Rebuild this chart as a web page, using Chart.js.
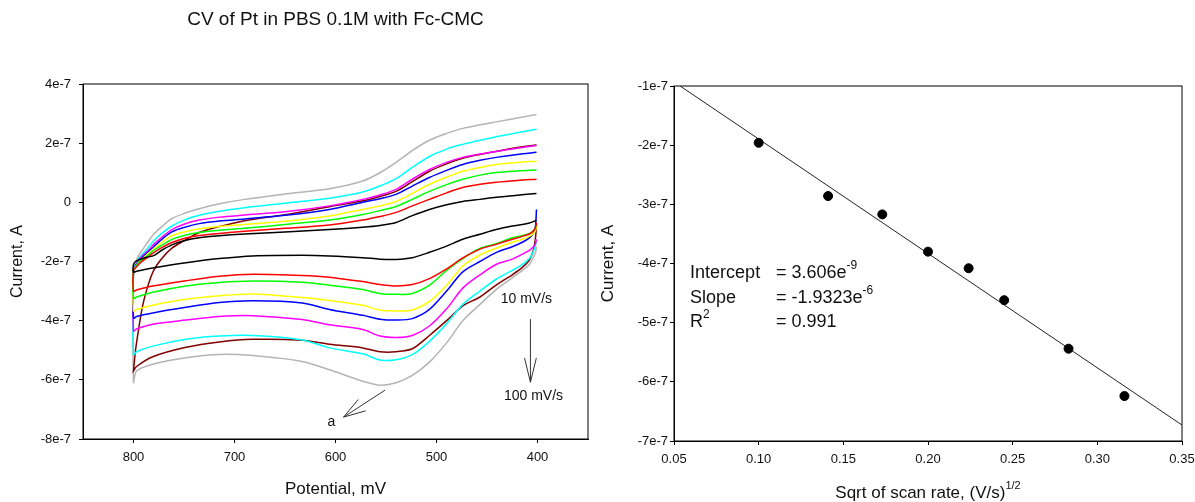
<!DOCTYPE html>
<html>
<head>
<meta charset="utf-8">
<script src="https://cdn.jsdelivr.net/npm/chart.js@4.4.1/dist/chart.umd.min.js"></script>
<style>
  html, body { margin: 0; padding: 0; background: #fff; overflow: hidden; }
  #wrap { position: relative; width: 1195px; height: 502px; }
  canvas { position: absolute; top: 0; }
</style>
</head>
<body>
<div id="wrap">
  <canvas id="cvChart" width="600" height="502" style="left:0"></canvas>
  <canvas id="fitChart" width="605" height="502" style="left:590px"></canvas>
</div>
<script>
// potentials (mV): return scan 400 -> 800, then forward scan 800 -> 400
const lowerPot = [401, 402, 404, 408, 415, 425, 441, 457, 474, 490, 507, 524, 540, 556, 573, 606, 633, 682, 715, 748, 781, 797, 800];
const upperPot = [800, 798, 795, 791, 786, 780, 772, 762, 750, 735, 715, 690, 650, 606, 573, 556, 540, 524, 507, 490, 474, 457, 441, 420, 401];

// currents, in 1e-7 A
const blackLow = [-0.60, -0.62, -0.65, -0.70, -0.75, -0.80, -0.92, -1.08, -1.25, -1.48, -1.69, -1.87, -1.93, -1.92, -1.87, -1.81, -1.79, -1.81, -1.90, -2.04, -2.22, -2.33, -2.36];
const blackUp = [-2.10, -2.00, -1.95, -1.90, -1.85, -1.80, -1.62, -1.44, -1.30, -1.20, -1.13, -1.07, -1.00, -0.92, -0.84, -0.78, -0.68, -0.45, -0.24, -0.08, 0.03, 0.10, 0.17, 0.24, 0.30];
const redLow = [-0.68, -0.85, -0.97, -1.07, -1.15, -1.25, -1.42, -1.58, -1.88, -2.25, -2.58, -2.78, -2.83, -2.78, -2.68, -2.53, -2.47, -2.43, -2.50, -2.65, -2.83, -2.96, -3.00];
const redUp = [-2.30, -2.22, -2.10, -1.98, -1.86, -1.70, -1.53, -1.36, -1.22, -1.12, -1.05, -0.98, -0.88, -0.77, -0.60, -0.48, -0.34, -0.12, 0.10, 0.32, 0.50, 0.61, 0.68, 0.74, 0.78];
const greenLow = [-0.75, -0.85, -0.95, -1.05, -1.12, -1.20, -1.40, -1.56, -1.90, -2.30, -2.80, -3.08, -3.11, -3.08, -2.95, -2.80, -2.70, -2.66, -2.71, -2.83, -3.04, -3.20, -3.25];
const greenUp = [-2.30, -2.20, -2.05, -1.93, -1.80, -1.62, -1.45, -1.25, -1.12, -1.02, -0.94, -0.88, -0.75, -0.60, -0.41, -0.28, -0.14, 0.10, 0.37, 0.60, 0.78, 0.92, 1.01, 1.06, 1.09];
const yellowLow = [-0.80, -0.95, -1.05, -1.15, -1.25, -1.35, -1.55, -1.78, -2.15, -2.80, -3.35, -3.64, -3.67, -3.64, -3.48, -3.32, -3.22, -3.10, -3.16, -3.28, -3.48, -3.62, -3.67];
const yellowUp = [-2.30, -2.18, -2.03, -1.90, -1.75, -1.57, -1.35, -1.13, -1.00, -0.90, -0.82, -0.75, -0.64, -0.46, -0.24, -0.12, 0.03, 0.30, 0.61, 0.85, 1.05, 1.18, 1.28, 1.35, 1.39];
const blueLow = [-0.24, -0.80, -1.05, -1.20, -1.35, -1.50, -1.70, -2.00, -2.35, -3.00, -3.62, -3.93, -3.98, -3.95, -3.82, -3.62, -3.40, -3.33, -3.39, -3.55, -3.74, -3.86, -3.92];
const blueUp = [-2.30, -2.15, -2.00, -1.85, -1.70, -1.50, -1.25, -1.00, -0.85, -0.72, -0.63, -0.56, -0.44, -0.24, 0.00, 0.12, 0.27, 0.55, 0.84, 1.08, 1.28, 1.42, 1.52, 1.62, 1.69];
const magentaLow = [-1.25, -1.40, -1.50, -1.62, -1.75, -1.92, -2.10, -2.45, -2.90, -3.60, -4.18, -4.50, -4.57, -4.52, -4.30, -4.14, -3.96, -3.83, -3.86, -3.98, -4.12, -4.28, -4.35];
const magentaUp = [-2.30, -2.15, -1.95, -1.80, -1.65, -1.42, -1.18, -0.92, -0.74, -0.60, -0.50, -0.43, -0.32, -0.12, 0.10, 0.25, 0.44, 0.78, 1.11, 1.35, 1.52, 1.63, 1.72, 1.83, 1.92];
const cyanLow = [-1.25, -1.45, -1.65, -1.90, -2.10, -2.30, -2.60, -3.00, -3.45, -4.10, -4.70, -5.15, -5.32, -5.33, -5.12, -4.92, -4.65, -4.50, -4.52, -4.63, -4.86, -5.05, -5.15];
const cyanUp = [-2.30, -2.10, -1.90, -1.75, -1.55, -1.30, -1.05, -0.80, -0.60, -0.44, -0.30, -0.18, -0.03, 0.14, 0.35, 0.55, 0.80, 1.18, 1.55, 1.80, 1.96, 2.10, 2.22, 2.35, 2.47];
const brownLow = [-0.74, -1.20, -1.60, -1.95, -2.20, -2.45, -2.80, -3.20, -3.50, -4.00, -4.50, -4.95, -5.05, -5.05, -4.92, -4.80, -4.66, -4.63, -4.72, -4.90, -5.22, -5.55, -5.70];
const brownUp = [-5.70, -5.00, -4.30, -3.50, -2.85, -2.30, -1.90, -1.55, -1.30, -1.02, -0.82, -0.62, -0.42, -0.15, 0.05, 0.20, 0.37, 0.70, 1.05, 1.30, 1.49, 1.62, 1.72, 1.85, 1.94];
const grayLow = [-1.50, -1.70, -1.85, -2.10, -2.30, -2.55, -2.95, -3.45, -4.00, -4.75, -5.40, -5.85, -6.10, -6.18, -6.05, -5.66, -5.38, -5.18, -5.14, -5.25, -5.47, -5.70, -6.08];
const grayUp = [-2.30, -2.05, -1.80, -1.60, -1.35, -1.08, -0.82, -0.55, -0.38, -0.22, -0.05, 0.10, 0.28, 0.46, 0.72, 1.00, 1.35, 1.75, 2.10, 2.33, 2.50, 2.62, 2.72, 2.85, 2.97];

const cvTicksX = [800, 700, 600, 500, 400];
const cvTicksY = [-8, -6, -4, -2, 0, 2, 4];

// peak current vs sqrt of scan rate
const sqrtRate = [0.100, 0.141, 0.173, 0.200, 0.224, 0.245, 0.283, 0.316];
const peakCur = [-1.96, -2.86, -3.17, -3.80, -4.08, -4.62, -5.44, -6.24];
const fitX = [0.05, 0.35];
const fitY = [-0.93, -6.73];
const fitTicksX = [0.05, 0.10, 0.15, 0.20, 0.25, 0.30, 0.35];
const fitTicksY = [-7, -6, -5, -4, -3, -2, -1];

const FONT = '"Liberation Sans", Arial, sans-serif';
Chart.defaults.font.family = FONT;
Chart.defaults.color = '#111';

function loop(low, up) {
  const pts = lowerPot.map((e, i) => ({ x: e, y: low[i] }));
  return pts.concat(upperPot.map((e, i) => ({ x: e, y: up[i] })));
}
function cvLine(low, up, color) {
  return { data: loop(low, up), borderColor: color, borderWidth: 1.5, pointRadius: 0, showLine: true, tension: 0.3, fill: false };
}
function eLabel(v) { return v === 0 ? '0' : v + 'e-7'; }

function arrow(ctx, x1, y1, x2, y2, len, spread) {
  const ang = Math.atan2(y1 - y2, x1 - x2);
  ctx.beginPath();
  ctx.moveTo(x1, y1); ctx.lineTo(x2, y2);
  ctx.moveTo(x2 + len * Math.cos(ang - spread), y2 + len * Math.sin(ang - spread));
  ctx.lineTo(x2, y2);
  ctx.lineTo(x2 + len * Math.cos(ang + spread), y2 + len * Math.sin(ang + spread));
  ctx.stroke();
}

const cvNotes = {
  id: 'cvNotes',
  afterDraw(chart) {
    const { ctx, chartArea: a, scales: { x, y } } = chart;
    ctx.save();
    ctx.strokeStyle = '#000'; ctx.lineWidth = 1;
    ctx.strokeRect(a.left, a.top, a.right - a.left, a.bottom - a.top);
    ctx.fillStyle = '#111';
    ctx.textAlign = 'center'; ctx.textBaseline = 'middle';
    ctx.font = '19px ' + FONT;
    ctx.fillText('CV of Pt in PBS 0.1M with Fc-CMC', (a.left + a.right) / 2, 20);
    ctx.font = '14px ' + FONT;
    ctx.fillText('10 mV/s', x.getPixelForValue(411), y.getPixelForValue(-3.28));
    ctx.fillText('100 mV/s', x.getPixelForValue(404), y.getPixelForValue(-6.55));
    ctx.fillText('a', x.getPixelForValue(604), y.getPixelForValue(-7.43));
    ctx.strokeStyle = '#333';
    arrow(ctx, x.getPixelForValue(407), y.getPixelForValue(-3.95), x.getPixelForValue(407), y.getPixelForValue(-6.08), 25, 0.24);
    arrow(ctx, x.getPixelForValue(551), y.getPixelForValue(-6.35), x.getPixelForValue(592), y.getPixelForValue(-7.26), 23, 0.3);
    ctx.restore();
  }
};

function supText(ctx, parts, x, y, big, small) {
  // parts: [[text, isSup], ...] drawn left to right from x
  let cx = x;
  parts.forEach(([t, sup]) => {
    ctx.font = (sup ? small : big) + 'px ' + FONT;
    ctx.fillText(t, cx, sup ? y - 7 : y);
    cx += ctx.measureText(t).width;
  });
  return cx;
}

const fitNotes = {
  id: 'fitNotes',
  afterDraw(chart) {
    const { ctx, chartArea: a, scales: { x, y } } = chart;
    ctx.save();
    ctx.strokeStyle = '#000'; ctx.lineWidth = 1;
    ctx.strokeRect(a.left, a.top, a.right - a.left, a.bottom - a.top);
    ctx.fillStyle = '#111';
    ctx.textAlign = 'left'; ctx.textBaseline = 'middle';
    const lx = x.getPixelForValue(0.0595), ex = x.getPixelForValue(0.1102);
    const r1 = y.getPixelForValue(-4.16), r2 = y.getPixelForValue(-4.58), r3 = y.getPixelForValue(-4.99);
    supText(ctx, [['Intercept', false]], lx, r1, 18, 12);
    supText(ctx, [['= 3.606e', false], ['-9', true]], ex, r1, 18, 12);
    supText(ctx, [['Slope', false]], lx, r2, 18, 12);
    supText(ctx, [['= -1.9323e', false], ['-6', true]], ex, r2, 18, 12);
    supText(ctx, [['R', false], ['2', true]], lx, r3, 18, 12);
    supText(ctx, [['= 0.991', false]], ex, r3, 18, 12);
    // x axis title with superscript
    ctx.font = '17px ' + FONT;
    const w1 = ctx.measureText('Sqrt of scan rate, (V/s)').width;
    ctx.font = '11px ' + FONT;
    const w2 = ctx.measureText('1/2').width;
    const tx = (a.left + a.right) / 2 - (w1 + w2) / 2;
    supText(ctx, [['Sqrt of scan rate, (V/s)', false], ['1/2', true]], tx, 493, 17, 11);
    ctx.restore();
  }
};

new Chart(document.getElementById('cvChart'), {
  type: 'scatter',
  data: {
    datasets: [
      cvLine(blackLow, blackUp, '#000000'),
      cvLine(redLow, redUp, '#ff0000'),
      cvLine(greenLow, greenUp, '#00ff00'),
      cvLine(yellowLow, yellowUp, '#ffff00'),
      cvLine(blueLow, blueUp, '#0000ff'),
      cvLine(magentaLow, magentaUp, '#ff00ff'),
      cvLine(cyanLow, cyanUp, '#00ffff'),
      cvLine(brownLow, brownUp, '#800000'),
      cvLine(grayLow, grayUp, '#b4b4b4')
    ]
  },
  options: {
    responsive: false,
    animation: false,
    layout: { padding: { top: 84, right: 12, bottom: 0, left: 0 } },
    plugins: { legend: { display: false }, tooltip: { enabled: false } },
    scales: {
      x: {
        type: 'linear', min: 350, max: 850, reverse: true,
        afterBuildTicks: s => { s.ticks = cvTicksX.map(v => ({ value: v })); },
        afterFit: s => { s.height = 63; s.paddingLeft = 0; s.paddingRight = 0; },
        grid: { drawOnChartArea: false, color: '#000', tickColor: '#000', tickLength: 4 },
        border: { color: '#000' },
        ticks: { font: { size: 13 }, padding: 7, maxRotation: 0, autoSkip: false },
        title: { display: true, text: 'Potential, mV', font: { size: 17 }, padding: { top: 0, bottom: 2 } }
      },
      y: {
        type: 'linear', min: -8, max: 4,
        afterBuildTicks: s => { s.ticks = cvTicksY.map(v => ({ value: v })); },
        afterFit: s => { s.width = 83; s.paddingTop = 0; s.paddingBottom = 0; },
        grid: { drawOnChartArea: false, color: '#000', tickColor: '#000', tickLength: 4 },
        border: { color: '#000' },
        ticks: { font: { size: 13 }, padding: 8, autoSkip: false, callback: eLabel },
        title: { display: true, text: 'Current, A', font: { size: 16 }, padding: { top: 8, bottom: 0 } }
      }
    }
  },
  plugins: [cvNotes]
});

new Chart(document.getElementById('fitChart'), {
  type: 'scatter',
  data: {
    datasets: [
      { data: sqrtRate.map((v, i) => ({ x: v, y: peakCur[i] })), pointRadius: 4.5, pointBackgroundColor: '#000', pointBorderColor: '#000', showLine: false },
      { data: fitX.map((v, i) => ({ x: v, y: fitY[i] })), pointRadius: 0, borderColor: '#222', borderWidth: 1, showLine: true }
    ]
  },
  options: {
    responsive: false,
    animation: false,
    layout: { padding: { top: 86, right: 13, bottom: 0, left: 0 } },
    plugins: { legend: { display: false }, tooltip: { enabled: false } },
    scales: {
      x: {
        type: 'linear', min: 0.05, max: 0.35,
        afterBuildTicks: s => { s.ticks = fitTicksX.map(v => ({ value: v })); },
        afterFit: s => { s.height = 61; s.paddingLeft = 0; s.paddingRight = 0; },
        grid: { drawOnChartArea: false, color: '#000', tickColor: '#000', tickLength: 4 },
        border: { color: '#000' },
        ticks: { font: { size: 13 }, padding: 7, maxRotation: 0, autoSkip: false, callback: v => v.toFixed(2) }
      },
      y: {
        type: 'linear', min: -7, max: -1,
        afterBuildTicks: s => { s.ticks = fitTicksY.map(v => ({ value: v })); },
        afterFit: s => { s.width = 84; s.paddingTop = 0; s.paddingBottom = 0; },
        grid: { drawOnChartArea: false, color: '#000', tickColor: '#000', tickLength: 4 },
        border: { color: '#000' },
        ticks: { font: { size: 13 }, padding: 2, autoSkip: false, callback: eLabel },
        title: { display: true, text: 'Current, A', font: { size: 17 }, padding: { top: 8, bottom: 0 } }
      }
    }
  },
  plugins: [fitNotes]
});
</script>
</body>
</html>
